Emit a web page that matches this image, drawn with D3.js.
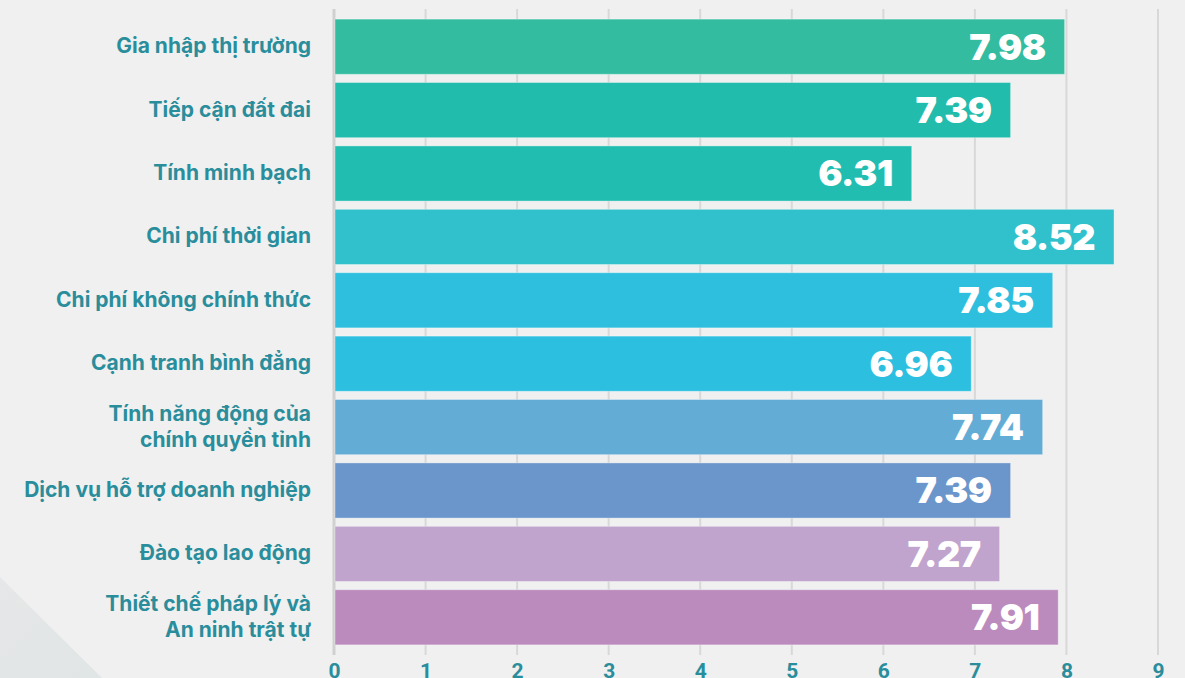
<!DOCTYPE html>
<html><head><meta charset="utf-8">
<script src="https://cdn.jsdelivr.net/npm/d3@7"></script>
<style>
html,body{margin:0;padding:0;background:#f0f0f0;}
svg{display:block;}
</style></head><body>
<svg id="c" width="1185" height="678"></svg>
<script>
const categories = [
  ["Gia nhập thị trường"],
  ["Tiếp cận đất đai"],
  ["Tính minh bạch"],
  ["Chi phí thời gian"],
  ["Chi phí không chính thức"],
  ["Cạnh tranh bình đẳng"],
  ["Tính năng động của","chính quyền tỉnh"],
  ["Dịch vụ hỗ trợ doanh nghiệp"],
  ["Đào tạo lao động"],
  ["Thiết chế pháp lý và","An ninh trật tự"]
];
const values = [7.98, 7.39, 6.31, 8.52, 7.85, 6.96, 7.74, 7.39, 7.27, 7.91];
const valueLabels = ["7.98","7.39","6.31","8.52","7.85","6.96","7.74","7.39","7.27","7.91"];
const colors = ["#33bc9f","#22bcac","#21bdb0","#31c1cc","#2ebfdf","#2cbfe0","#63acd6","#6b96cb","#c1a4cd","#bb8bbd"];
const ticks = [0,1,2,3,4,5,6,7,8,9];

const svg = d3.select("#c");
const W = 1185, H = 678;
svg.append("rect").attr("width",W).attr("height",H).attr("fill","#f0f0f0");

// decorative corner
const defs = svg.append("defs");
const g1 = defs.append("linearGradient").attr("id","dec").attr("x1","0").attr("y1","0").attr("x2","1").attr("y2","1");
g1.append("stop").attr("offset","0").attr("stop-color","#e6e7e8");
g1.append("stop").attr("offset","1").attr("stop-color","#e0e5e5");
svg.append("path").attr("d","M0,577 L102,678 L0,678 Z").attr("fill","url(#dec)");

const x = d3.scaleLinear().domain([0,9]).range([334,1158]);
const y = d3.scaleBand().domain(d3.range(categories.length)).range([15,649]).paddingInner(0.13).paddingOuter(0.065);

// grid
svg.append("g").selectAll("line").data(ticks).join("line")
  .attr("x1",d=>x(d)).attr("x2",d=>x(d))
  .attr("y1",9).attr("y2",655)
  .attr("stroke",d=>d===0?"#d0d0d0":"#d8d8d8")
  .attr("stroke-width",d=>d===0?3:2);

// bars
svg.append("g").selectAll("rect").data(values).join("rect")
  .attr("x",x(0)+1)
  .attr("y",(d,i)=>y(i))
  .attr("width",d=>x(d)-x(0)-1)
  .attr("height",y.bandwidth())
  .attr("fill",(d,i)=>colors[i])
  .attr("stroke","rgba(255,255,255,0.35)")
  .attr("stroke-width",1);

// value labels
svg.append("g").selectAll("text").data(values).join("text")
  .attr("x",d=>x(d)-19)
  .attr("y",(d,i)=>y(i)+y.bandwidth()/2)
  .attr("dy","0.36em")
  .attr("text-anchor","end")
  .attr("fill","#ffffff")
  .style("font-family","Inter, 'Open Sans', sans-serif")
  .style("font-weight","900")
  .style("font-size","36px")
  .style("letter-spacing","-0.5px")
  .text((d,i)=>valueLabels[i]);

// category labels
const cl = svg.append("g").selectAll("text").data(categories).join("text")
  .attr("text-anchor","end")
  .attr("fill","#2a8d9b")
  .style("font-family","Inter, 'Open Sans', sans-serif")
  .style("font-weight","700")
  .style("font-size","21px")
  .attr("transform",(d,i)=>`translate(311,${y(i)+y.bandwidth()/2 - 1})`);
cl.each(function(d){
  const t = d3.select(this);
  const n = d.length, lh = 26;
  d.forEach((s,k)=>{
    t.append("tspan").attr("x",0).attr("y",(k-(n-1)/2)*lh).attr("dy","0.36em").text(s);
  });
});

// axis tick labels
const ax = d3.axisBottom(x).tickValues(ticks).tickSize(0).tickFormat(d3.format("d"));
const axg = svg.append("g").attr("transform","translate(0,678)").call(ax);
axg.select(".domain").remove();
axg.selectAll("text")
  .attr("y",0).attr("dy","0")
  .attr("fill","#2a8d9b")
  .style("font-family","'Liberation Sans Narrow', 'Roboto', sans-serif")
  .style("font-weight","700")
  .style("font-size","21px");
</script>
</body></html>
